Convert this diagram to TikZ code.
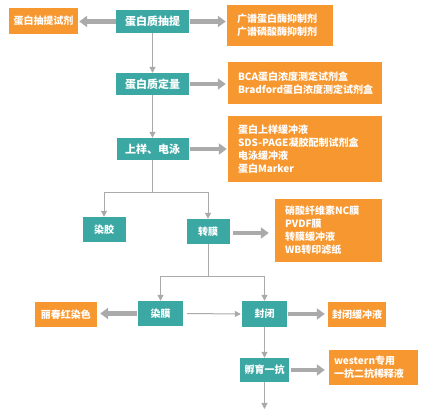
\documentclass[tikz,border=0pt]{standalone}
\usepackage{fontspec}
\setmainfont{Noto Sans CJK SC}
\usetikzlibrary{arrows.meta,calc}
\definecolor{tealc}{RGB}{59,168,164}
\definecolor{orangec}{RGB}{247,151,48}
\definecolor{arrowc}{RGB}{170,170,170}
\begin{document}
\begin{tikzpicture}[x=1pt,y=-1pt,
  tbox/.style={fill=tealc, text=white, inner sep=0pt, font=\bfseries\fontsize{11}{13}\selectfont},
  tboxs/.style={fill=tealc, text=white, inner sep=0pt, font=\bfseries\fontsize{10}{13}\selectfont},
  obox/.style={fill=orangec, text=white, inner sep=0pt, font=\bfseries\fontsize{10}{13}\selectfont},
  oboxl/.style={fill=orangec, text=white, inner xsep=10pt, inner ysep=0pt, align=left, font=\bfseries\fontsize{10}{13}\selectfont},
  bigarr/.style={draw=arrowc, line width=4.5pt, -{Triangle[width=11pt,length=8pt]}},
  smallarr/.style={draw=arrowc, line width=1pt, -{Triangle[width=6pt,length=6pt]}},
  plainline/.style={draw=arrowc, line width=1pt}]
\path[use as bounding box, fill=white] (0,0) rectangle (424,411);

% main flow
\node[tbox, minimum width=73pt, minimum height=23pt] (A) at (152.5,21.5) {蛋白质抽提};
\node[tbox, minimum width=73pt, minimum height=22pt] (B) at (152.5,84) {蛋白质定量};
\node[tbox, minimum width=72pt, minimum height=22pt] (C) at (152.5,149) {上样、电泳};
\node[tboxs, minimum width=43pt, minimum height=25pt] (D) at (104,229.5) {染胶};
\node[tboxs, minimum width=43pt, minimum height=25pt] (E) at (208,231.5) {转膜};
\node[tboxs, minimum width=45pt, minimum height=25pt] (F) at (160.5,313.5) {染膜};
\node[tboxs, minimum width=45pt, minimum height=26pt] (G) at (264.5,314) {封闭};
\node[tboxs, minimum width=49pt, minimum height=24pt] (H) at (264.5,370) {孵育一抗};

% orange boxes
\node[obox, minimum width=69pt, minimum height=26pt] (L1) at (43.5,21) {蛋白抽提试剂};
\node[oboxl, text width=86pt, minimum height=41pt] (R1) at (280,25.5) {广谱蛋白酶抑制剂\\广谱磷酸酶抑制剂};
\node[oboxl, text width=134pt, minimum height=42pt] (R2) at (305,83) {BCA蛋白浓度测定试剂盒\\Bradford蛋白浓度测定试剂盒};
\node[oboxl, text width=134pt, minimum height=66pt] (R3) at (305,149) {蛋白上样缓冲液\\SDS-PAGE凝胶配制试剂盒\\电泳缓冲液\\蛋白Marker};
\node[oboxl, text width=87pt, minimum height=63pt] (R4) at (328.5,230.5) {硝酸纤维素NC膜\\PVDF膜\\转膜缓冲液\\WB转印滤纸};
\node[obox, minimum width=62pt, minimum height=25pt] (L5) at (66,314.5) {丽春红染色};
\node[obox, minimum width=58pt, minimum height=25pt] (R5) at (357,314.5) {封闭缓冲液};
\node[oboxl, inner xsep=5pt, text width=79pt, minimum height=35pt] (R6) at (373.5,367.5) {western专用\\一抗二抗稀释液};

% thick side arrows
\draw[bigarr, shorten >=1pt] (A.west) -- (A.west -| L1.east);
\draw[bigarr, shorten >=1pt, shorten <=1pt] (A.east) -- (A.east -| R1.west);
\draw[bigarr, shorten >=2pt, shorten <=1pt] (B.east) -- (B.east -| R2.west);
\draw[bigarr, shorten >=1pt, shorten <=1pt] (C.east) -- (C.east -| R3.west);
\draw[bigarr, shorten >=6pt, shorten <=3pt] ($(E.east)+(0,1.5)$) -- ($(E.east -| R4.west)+(0,1.5)$);
\draw[bigarr, shorten >=3pt, shorten <=1pt] (F.west) -- (F.west -| L5.east);
\draw[bigarr, shorten >=3pt, shorten <=1pt] (G.east) -- (G.east -| R5.west);
\draw[bigarr, shorten >=4pt, shorten <=2pt] (H.east) -- (H.east -| R6.west);

% thin flow arrows
\draw[smallarr] (A.south) -- (B.north);
\draw[smallarr] (B.south) -- (C.north);
\coordinate (j1) at (C.south |- 0,193);
\draw[plainline] (C.south) -- (j1);
\draw[smallarr] (j1) -| (D.north);
\draw[smallarr] (j1) -| (E.north);
\coordinate (j2) at (E.south |- 0,277);
\draw[plainline] (E.south) -- (j2);
\draw[smallarr] (j2) -| (F.north);
\draw[smallarr] (j2) -| (G.north);
\draw[smallarr, shorten <=4pt, shorten >=1pt] (F.east) -- (G.west);
\draw[smallarr] (G.south) -- (H.north);
\coordinate (endpt) at (H.south |- 0,409);
\draw[smallarr] (H.south) -- (endpt);
\end{tikzpicture}
\end{document}
